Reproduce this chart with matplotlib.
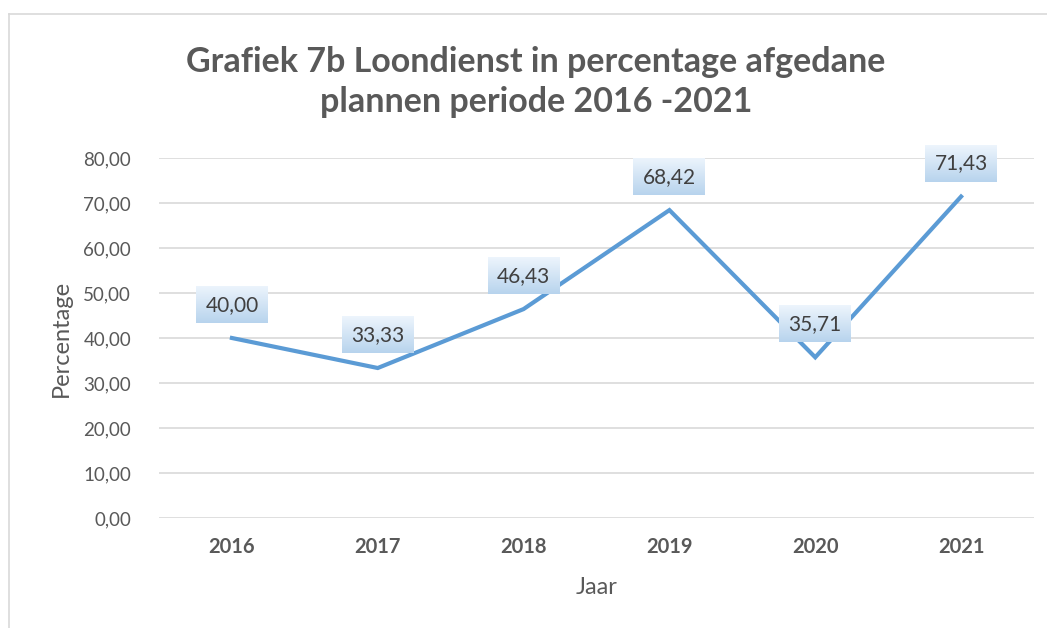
import matplotlib
matplotlib.use("Agg")
import matplotlib.pyplot as plt
import numpy as np
from matplotlib.lines import Line2D

years = ["2016", "2017", "2018", "2019", "2020", "2021"]
values = [40.00, 33.33, 46.43, 68.42, 35.71, 71.43]
value_labels = ["40,00", "33,33", "46,43", "68,42", "35,71", "71,43"]
yticks = [0, 10, 20, 30, 40, 50, 60, 70, 80]
ytick_labels = ["0,00", "10,00", "20,00", "30,00", "40,00", "50,00", "60,00", "70,00", "80,00"]
title = "Grafiek 7b Loondienst in percentage afgedane\nplannen periode 2016 -2021"

plt.rcParams['font.family'] = ['Lato', 'DejaVu Sans']
GRAY = "#595959"
LINE = "#5B9BD5"

W, H = 1047, 628
fig = plt.figure(figsize=(W/100, H/100), dpi=100)
ax = fig.add_axes([159/W, 110/H, (1034-159)/W, (518-158)/H])

x = np.arange(len(years))
ax.plot(x, values, color=LINE, lw=3.0, solid_joinstyle='miter', zorder=3)
ax.set_xlim(-0.5, len(years)-0.5)
ax.set_ylim(0, 80)
ax.set_yticks(yticks)
ax.set_yticklabels(ytick_labels, fontsize=13.5, color=GRAY)
ax.set_xticks(x)
ax.set_xticklabels(years, fontsize=14.5, color=GRAY, fontweight='bold')
ax.tick_params(axis='both', length=0)
ax.tick_params(axis='y', pad=20)
ax.tick_params(axis='x', pad=14)
ax.grid(axis='y', color="#D9D9D9", lw=1.2, zorder=0)
for s in ax.spines.values():
    s.set_visible(False)
ax.set_ylabel("Percentage", fontsize=17, color=GRAY, labelpad=8)
ax.set_xlabel("Jaar", fontsize=17, color=GRAY, labelpad=14)

fig.text(536/W, 1-82/H, title, ha='center', va='center', fontsize=24.5,
         fontweight='bold', color=GRAY, linespacing=1.32)

# outer border (top and left)
fig.add_artist(Line2D([9/W, 1.0], [1-14/H, 1-14/H], color="#D9D9D9", lw=1.2, transform=fig.transFigure))
fig.add_artist(Line2D([9/W, 9/W], [0, 1-14/H], color="#D9D9D9", lw=1.2, transform=fig.transFigure))

# data labels with gradient boxes
texts = []
for xi, v, lab in zip(x, values, value_labels):
    t = ax.annotate(lab, (xi, v), xytext=(0, 24), textcoords='offset points',
                    ha='center', va='center', fontsize=15, color="#404040", zorder=6)
    texts.append(t)

fig.canvas.draw()
renderer = fig.canvas.get_renderer()
grad = np.linspace(0, 1, 64).reshape(-1, 1)
top = np.array([0.93, 0.96, 0.99])
bot = np.array([0.72, 0.83, 0.93])
img = top[None, None, :] * (1 - grad[:, :, None]) + bot[None, None, :] * grad[:, :, None]
for t in texts:
    bb = t.get_window_extent(renderer)
    cx = (bb.x0 + bb.x1) / 2
    cy = (bb.y0 + bb.y1) / 2
    w = 72
    h = 37
    x0, x1 = (cx - w/2)/W, (cx + w/2)/W
    y0, y1 = (cy - h/2)/H, (cy + h/2)/H
    iax = fig.add_axes([x0, y0, x1-x0, y1-y0], zorder=5)
    iax.imshow(img, aspect='auto', extent=[0, 1, 0, 1], origin='upper')
    iax.axis('off')
    t.remove()
    fig.text(cx/W, cy/H, t.get_text(), ha='center', va='center', fontsize=15,
             color="#404040", zorder=10)

fig.savefig("out.png", dpi=100)
